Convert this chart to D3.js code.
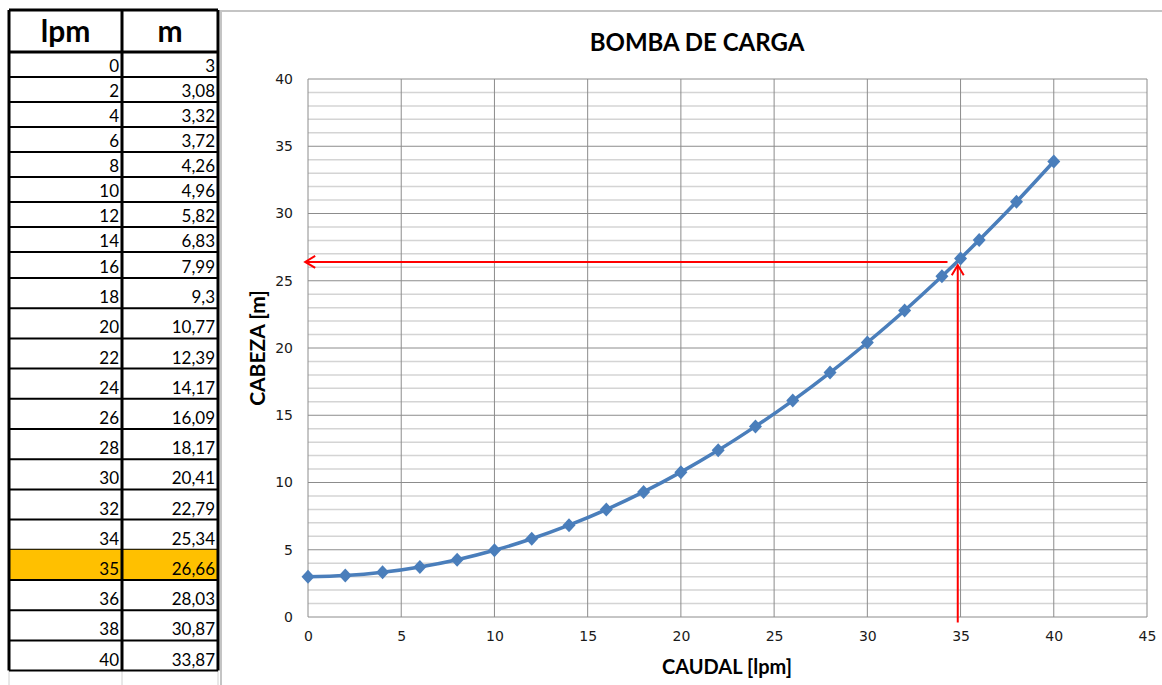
<!DOCTYPE html>
<html>
<head>
<meta charset="utf-8">
<title>bombaCarga</title>
<script src="https://d3js.org/d3.v7.min.js"></script>
<style>
  body { margin: 0; background: #fff; }
</style>
</head>
<body>
<svg width="1162" height="685" id="mainsvg"></svg>
<script>
// table / curve values
const lpm = [0, 2, 4, 6, 8, 10, 12, 14, 16, 18, 20, 22, 24, 26, 28, 30, 32, 34, 35, 36, 38, 40];
const metros = [3, 3.08, 3.32, 3.72, 4.26, 4.96, 5.82, 6.83, 7.99, 9.3, 10.77, 12.39, 14.17, 16.09, 18.17, 20.41, 22.79, 25.34, 26.66, 28.03, 30.87, 33.87];
const highlightLpm = 35;
const xTicks = [0, 5, 10, 15, 20, 25, 30, 35, 40, 45];
const yTicks = [0, 5, 10, 15, 20, 25, 30, 35, 40];

const svg = d3.select('#mainsvg');
const fmt = v => String(v).replace('.', ',');

// ---- spreadsheet table on the left ----
const tbl = svg.append('g');
const colX = [9, 122, 218];
const rowH = lpm.map(v => v <= 14 ? 25 : (v === 16 ? 26 : 30.2));
let yy = 52;
const rowY = rowH.map(h => { const y0 = yy; yy += h; return y0; });
const tableBottom = yy;

// faint sheet gridlines below the table
colX.forEach(x => tbl.append('line').attr('x1', x).attr('x2', x)
  .attr('y1', tableBottom).attr('y2', 685).attr('stroke', '#d0d0d0').attr('stroke-width', 1));

lpm.forEach((v, i) => {
  if (v === highlightLpm) {
    tbl.append('rect').attr('x', colX[0]).attr('y', rowY[i])
      .attr('width', colX[2] - colX[0]).attr('height', rowH[i]).attr('fill', '#ffc000');
  }
  const ty = rowY[i] + rowH[i] - 5;
  tbl.append('text').attr('x', colX[1] - 3).attr('y', ty).attr('text-anchor', 'end')
    .attr('font-family', 'Lato, sans-serif').attr('font-size', 17).text(fmt(v));
  tbl.append('text').attr('x', colX[2] - 3).attr('y', ty).attr('text-anchor', 'end')
    .attr('font-family', 'Lato, sans-serif').attr('font-size', 17).text(fmt(metros[i]));
  tbl.append('line').attr('x1', colX[0]).attr('x2', colX[2])
    .attr('y1', rowY[i] + rowH[i]).attr('y2', rowY[i] + rowH[i])
    .attr('stroke', '#000').attr('stroke-width', 2);
});
// header
tbl.append('text').attr('x', (colX[0] + colX[1]) / 2).attr('y', 42).attr('text-anchor', 'middle')
  .attr('font-family', 'Lato, sans-serif').attr('font-weight', 'bold').attr('font-size', 30).text('lpm');
tbl.append('text').attr('x', (colX[1] + colX[2]) / 2).attr('y', 42).attr('text-anchor', 'middle')
  .attr('font-family', 'Lato, sans-serif').attr('font-weight', 'bold').attr('font-size', 30).text('m');
tbl.append('line').attr('x1', colX[0]).attr('x2', colX[2]).attr('y1', 10).attr('y2', 10)
  .attr('stroke', '#000').attr('stroke-width', 3);
tbl.append('line').attr('x1', colX[0]).attr('x2', colX[2]).attr('y1', 52).attr('y2', 52)
  .attr('stroke', '#000').attr('stroke-width', 3);
colX.forEach(x => tbl.append('line').attr('x1', x).attr('x2', x)
  .attr('y1', 10).attr('y2', tableBottom).attr('stroke', '#000').attr('stroke-width', 3));

// ---- chart frame ----
svg.append('path').attr('d', 'M221,685 V11 H1162').attr('fill', 'none')
  .attr('stroke', '#c4c4c4').attr('stroke-width', 2);

// ---- chart ----
const margin = { left: 308, right: 1147, top: 79, bottom: 617 };
const xScale = d3.scaleLinear().domain([0, 45]).range([margin.left, margin.right]);
const yScale = d3.scaleLinear().domain([0, 40]).range([margin.bottom, margin.top]);

const g = svg.append('g');
// minor horizontal grid (every 1 m)
g.selectAll('.minor').data(d3.range(1, 40).filter(d => d % 5 !== 0)).join('line')
  .attr('x1', margin.left).attr('x2', margin.right)
  .attr('y1', d => yScale(d)).attr('y2', d => yScale(d))
  .attr('stroke', '#d4d4d4').attr('stroke-width', 1.5);
// major grid
g.selectAll('.majorY').data(yTicks).join('line')
  .attr('x1', margin.left).attr('x2', margin.right)
  .attr('y1', d => yScale(d)).attr('y2', d => yScale(d))
  .attr('stroke', '#8c8c8c').attr('stroke-width', 1);
g.selectAll('.majorX').data(xTicks).join('line')
  .attr('x1', d => xScale(d)).attr('x2', d => xScale(d))
  .attr('y1', margin.top).attr('y2', margin.bottom)
  .attr('stroke', '#8c8c8c').attr('stroke-width', 1);

// axes (labels only)
const xAxis = d3.axisBottom(xScale).tickValues(xTicks).tickSize(0).tickPadding(14);
const yAxis = d3.axisLeft(yScale).tickValues(yTicks).tickSize(0).tickPadding(15);
const xg = g.append('g').attr('transform', `translate(0,${margin.bottom})`).call(xAxis);
const yg = g.append('g').attr('transform', `translate(${margin.left},0)`).call(yAxis);
[xg, yg].forEach(a => {
  a.select('.domain').remove();
  a.selectAll('text').attr('font-family', 'DejaVu Sans, sans-serif').attr('font-size', 14).attr('fill', '#1a1a1a');
});

// curve (all table points, 35 included)
const pts = lpm.map((v, i) => [v, metros[i]]);
const line = d3.line().x(d => xScale(d[0])).y(d => yScale(d[1])).curve(d3.curveMonotoneX);
g.append('path').datum(pts).attr('d', line).attr('fill', 'none')
  .attr('stroke', '#4a7ebb').attr('stroke-width', 3.5);
g.selectAll('.mk').data(pts).join('path')
  .attr('transform', d => `translate(${xScale(d[0])},${yScale(d[1])})`)
  .attr('d', 'M0,-7 L6.5,0 L0,7 L-6.5,0 Z').attr('fill', '#4a7ebb');

// reading arrows
const arrowY = 26.4, arrowX = 34.85;
g.append('line').attr('x1', xScale(34.3)).attr('x2', xScale(-0.15))
  .attr('y1', yScale(arrowY)).attr('y2', yScale(arrowY))
  .attr('stroke', 'red').attr('stroke-width', 2);
g.append('path').attr('transform', `translate(${xScale(-0.15)},${yScale(arrowY)})`)
  .attr('d', 'M10,-6 L0,0 L10,6').attr('fill', 'none').attr('stroke', 'red').attr('stroke-width', 2);
g.append('line').attr('x1', xScale(arrowX)).attr('x2', xScale(arrowX))
  .attr('y1', yScale(-0.4)).attr('y2', yScale(26.15))
  .attr('stroke', 'red').attr('stroke-width', 2);
g.append('path').attr('transform', `translate(${xScale(arrowX)},${yScale(26.15)})`)
  .attr('d', 'M-6,10 L0,0 L6,10').attr('fill', 'none').attr('stroke', 'red').attr('stroke-width', 2);

// titles
svg.append('text').attr('x', 697).attr('y', 51).attr('text-anchor', 'middle')
  .attr('font-family', 'Lato, sans-serif').attr('font-weight', 'bold').attr('font-size', 24).text('BOMBA DE CARGA');
svg.append('text').attr('x', 727).attr('y', 674).attr('text-anchor', 'middle')
  .attr('font-family', 'Lato, sans-serif').attr('font-weight', 'bold').attr('font-size', 20).text('CAUDAL [lpm]');
svg.append('text').attr('transform', 'translate(265,348) rotate(-90)').attr('text-anchor', 'middle')
  .attr('font-family', 'Lato, sans-serif').attr('font-weight', 'bold').attr('font-size', 21).text('CABEZA [m]');
</script>
</body>
</html>
